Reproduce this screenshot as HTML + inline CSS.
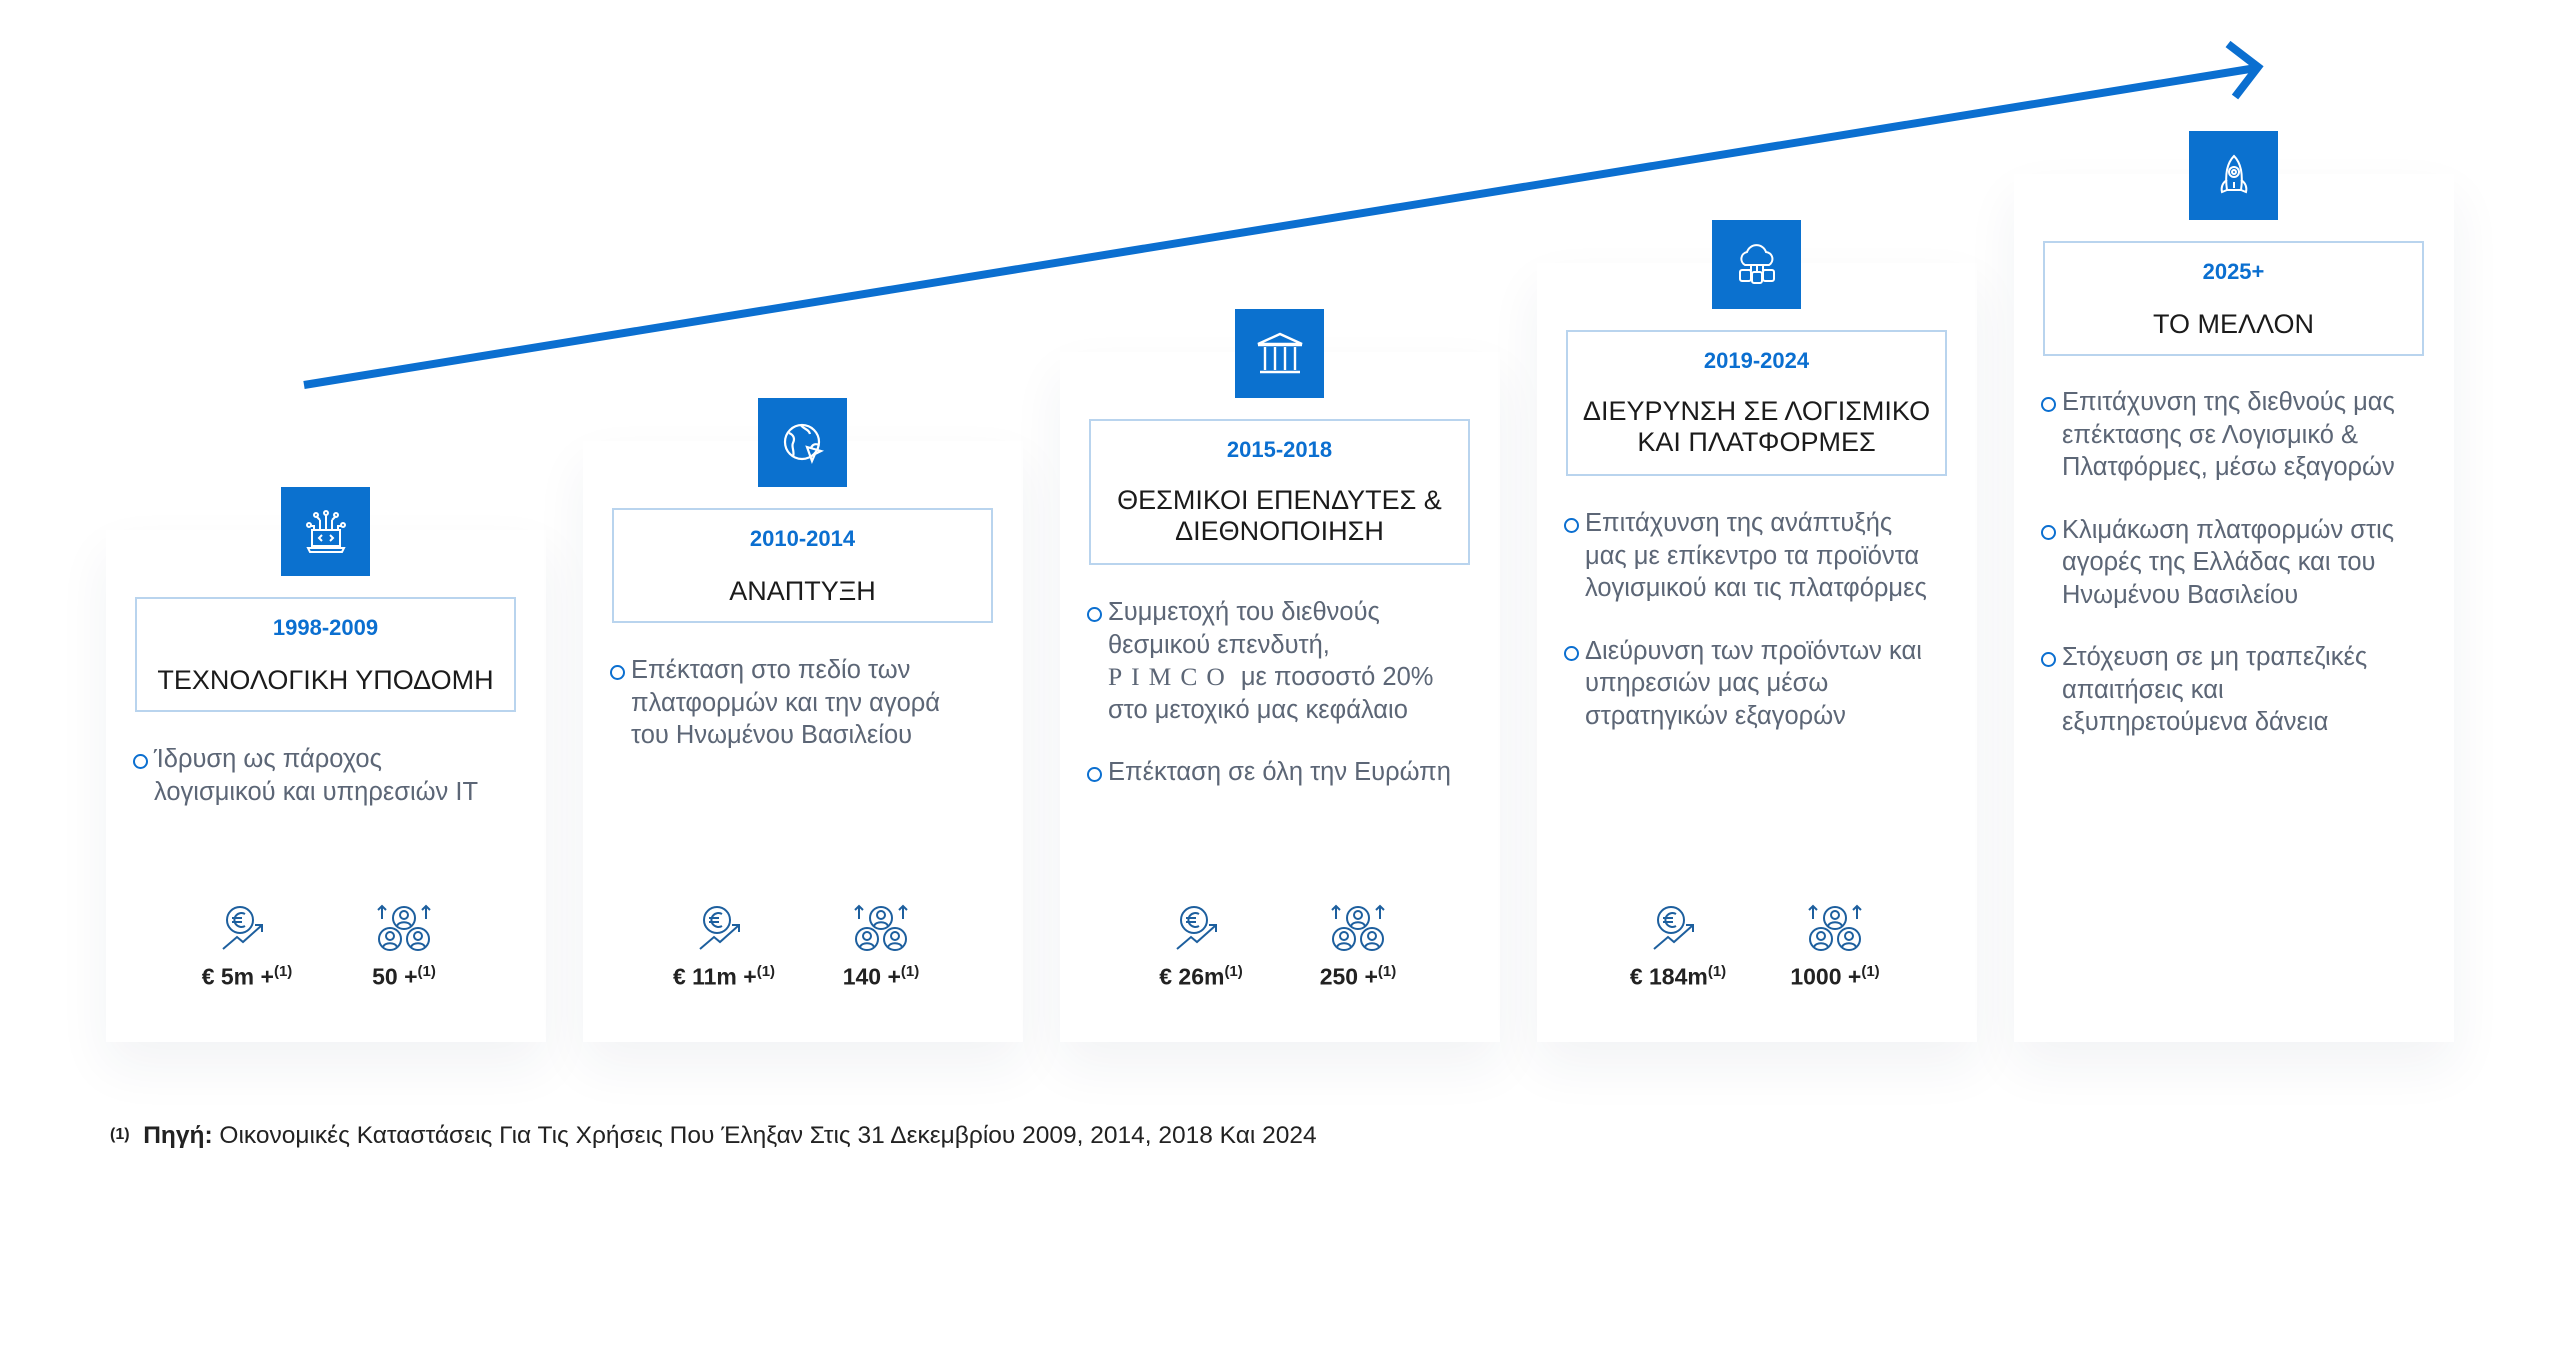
<!DOCTYPE html>
<html><head><meta charset="utf-8"><style>
*{margin:0;padding:0;box-sizing:border-box}
body{width:2560px;height:1367px;background:#fff;position:relative;overflow:hidden;font-family:"Liberation Sans","DejaVu Sans",sans-serif}
.card{position:absolute;width:440px;background:#fff;box-shadow:0 24px 50px rgba(30,50,90,0.06)}
.icon{position:absolute;width:89px;height:89px;background:#0b71cf;display:flex;align-items:center;justify-content:center}
.box{position:absolute;width:381px;border:2.5px solid #b9d4ee;background:#fff;text-align:center}
.yr{color:#0b6fd0;font-weight:bold;font-size:22px;position:absolute;left:0;right:0}
.tt{color:#1b1b1b;font-size:27px;line-height:31px;position:absolute;left:0;right:0}
.bl{position:absolute;width:430px;white-space:nowrap;color:#5c6676;font-size:25.5px;line-height:32.5px}
.bl p{position:relative;padding-left:21px;margin-bottom:30px}
.bl p:before{content:"";position:absolute;left:0;top:11px;width:11px;height:11px;border:2.5px solid #0b6fd0;border-radius:50%}
.st{position:absolute;width:160px;text-align:center;font-weight:bold;font-size:23px;color:#222}
.st sup{font-size:15px}
.st svg{display:block;margin:0 auto 10px}
.foot{position:absolute;left:110px;top:1122px;font-size:24.5px;color:#222;white-space:nowrap}
</style></head><body>

<svg width="2560" height="1367" style="position:absolute;left:0;top:0">
<line x1="304" y1="385" x2="2256" y2="68" stroke="#0b6fd0" stroke-width="8"/>
<polyline points="2228,44 2258,67 2235,97" fill="none" stroke="#0b6fd0" stroke-width="8"/>
</svg>

<div class="card" style="left:106px;top:530px;height:512px"></div>
<div class="card" style="left:583px;top:441px;height:601px"></div>
<div class="card" style="left:1060px;top:352px;height:690px"></div>
<div class="card" style="left:1537px;top:263px;height:779px"></div>
<div class="card" style="left:2014px;top:174px;height:868px"></div>

<div class="icon" style="left:281px;top:487px"><svg width="52" height="52" viewBox="0 0 52 52" fill="none" stroke="#fff" stroke-width="2"><rect x="12" y="24" width="28" height="16"/><path d="M8 42h36l-2 4H10z"/><path d="M22 29l-3 3 3 3M30 29l3 3-3 3"/><path d="M20 24V14M26 24V8M32 24V14M14 24V20h-4M38 24V20h4M20 14l-4-4M32 14l4-4"/><circle cx="26" cy="7" r="2"/><circle cx="16" cy="9" r="2"/><circle cx="36" cy="9" r="2"/><circle cx="9" cy="19" r="2"/><circle cx="43" cy="19" r="2"/></svg></div>
<div class="icon" style="left:758px;top:398px"><svg width="52" height="52" viewBox="0 0 52 52" fill="none" stroke="#fff" stroke-width="2.2"><circle cx="25" cy="25" r="17"/><path d="M12 16c5 2 6 6 4 10s2 8 0 14M24 8c2 4 8 4 9 9M42 28c-4-2-7 0-8 3"/><path d="M30 30l14 4-6 3-3 7z"/></svg></div>
<div class="icon" style="left:1235px;top:309px"><svg width="56" height="56" viewBox="0 0 56 56" fill="none" stroke="#fff" stroke-width="2.4"><path d="M6 18L28 8l22 10z"/><path d="M6 19h44M8 46h40M13 21v23M23 21v23M33 21v23M43 21v23"/></svg></div>
<div class="icon" style="left:1712px;top:220px"><svg width="52" height="52" viewBox="0 0 52 52" fill="none" stroke="#fff" stroke-width="2"><path d="M14 26a7 7 0 0 1 2-13 10 10 0 0 1 19 0 7 7 0 0 1 3 13z"/><path d="M20 26v5h-5M26 26v7M32 26v5h5"/><rect x="9" y="31" width="11" height="11" rx="2"/><rect x="21" y="33" width="10" height="11" rx="2"/><rect x="32" y="31" width="11" height="11" rx="2"/></svg></div>
<div class="icon" style="left:2189px;top:131px"><svg width="52" height="52" viewBox="0 0 52 52" fill="none" stroke="#fff" stroke-width="2"><path d="M26 6c-8 8-9 20-7 34h14c2-14 1-26-7-34z"/><circle cx="26" cy="22" r="5"/><circle cx="26" cy="22" r="2"/><path d="M19 30c-5 3-6 8-5 12l5-2M33 30c5 3 6 8 5 12l-5-2M26 32v6"/></svg></div>

<div class="box" style="left:135px;top:597px;height:115px"><div class="yr" style="top:16px">1998-2009</div><div class="tt" style="top:66px">ΤΕΧΝΟΛΟΓΙΚΗ ΥΠΟΔΟΜΗ</div></div>
<div class="box" style="left:612px;top:508px;height:115px"><div class="yr" style="top:16px">2010-2014</div><div class="tt" style="top:66px">ΑΝΑΠΤΥΞΗ</div></div>
<div class="box" style="left:1089px;top:419px;height:146px"><div class="yr" style="top:16px">2015-2018</div><div class="tt" style="top:64px">ΘΕΣΜΙΚΟΙ ΕΠΕΝΔΥΤΕΣ &amp;<br>ΔΙΕΘΝΟΠΟΙΗΣΗ</div></div>
<div class="box" style="left:1566px;top:330px;height:146px"><div class="yr" style="top:16px">2019-2024</div><div class="tt" style="top:64px">ΔΙΕΥΡΥΝΣΗ ΣΕ ΛΟΓΙΣΜΙΚΟ<br>ΚΑΙ ΠΛΑΤΦΟΡΜΕΣ</div></div>
<div class="box" style="left:2043px;top:241px;height:115px"><div class="yr" style="top:16px">2025+</div><div class="tt" style="top:66px">ΤΟ ΜΕΛΛΟΝ</div></div>

<div class="bl" style="left:133px;top:743px"><p>Ίδρυση ως πάροχος<br>λογισμικού και υπηρεσιών IT</p></div>
<div class="bl" style="left:610px;top:654px"><p>Επέκταση στο πεδίο των<br>πλατφορμών και την αγορά<br>του Ηνωμένου Βασιλείου</p></div>
<div class="bl" style="left:1087px;top:596px"><p>Συμμετοχή του διεθνούς<br>θεσμικού επενδυτή,<br><span style="font-family:'Liberation Serif',serif;letter-spacing:9px">PIMCO</span> με ποσοστό 20%<br>στο μετοχικό μας κεφάλαιο</p><p>Επέκταση σε όλη την Ευρώπη</p></div>
<div class="bl" style="left:1564px;top:507px"><p>Επιτάχυνση της ανάπτυξής<br>μας με επίκεντρο τα προϊόντα<br>λογισμικού και τις πλατφόρμες</p><p>Διεύρυνση των προϊόντων και<br>υπηρεσιών μας μέσω<br>στρατηγικών εξαγορών</p></div>
<div class="bl" style="left:2041px;top:386px"><p>Επιτάχυνση της διεθνούς μας<br>επέκτασης σε Λογισμικό &amp;<br>Πλατφόρμες, μέσω εξαγορών</p><p>Κλιμάκωση πλατφορμών στις<br>αγορές της Ελλάδας και του<br>Ηνωμένου Βασιλείου</p><p>Στόχευση σε μη τραπεζικές<br>απαιτήσεις και<br>εξυπηρετούμενα δάνεια</p></div>

<div id="stats"></div>
<script>
var eur='<svg width="56" height="50" viewBox="0 0 56 50" fill="none" stroke="#1d5f9e" stroke-width="2"><circle cx="21" cy="17" r="13"/><path d="M26 11a7 7 0 1 0 0 12M13 15h10M13 19h10"/><path d="M4 46l14-12 6 5 18-16M36 22h7v7"/></svg>';
var ppl='<svg width="64" height="50" viewBox="0 0 64 50" fill="none" stroke="#1d5f9e" stroke-width="2"><circle cx="32" cy="15" r="11"/><circle cx="32" cy="12" r="4"/><path d="M25 23c2-5 12-5 14 0"/><circle cx="18" cy="36" r="11"/><circle cx="18" cy="33" r="4"/><path d="M11 44c2-5 12-5 14 0"/><circle cx="46" cy="36" r="11"/><circle cx="46" cy="33" r="4"/><path d="M39 44c2-5 12-5 14 0"/><path d="M10 16V3M6 7l4-4 4 4M54 16V3M50 7l4-4 4 4"/></svg>';
var d=[["€ 5m +","50 +"],["€ 11m +","140 +"],["€ 26m","250 +"],["€ 184m","1000 +"]];
var h="";
for(var i=0;i<4;i++){var c=106+477*i+220;
h+='<div class="st" style="left:'+(c-79-80)+'px;top:903px">'+eur+d[i][0]+'<sup>(1)</sup></div>';
h+='<div class="st" style="left:'+(c+78-80)+'px;top:903px">'+ppl+d[i][1]+'<sup>(1)</sup></div>';}
document.getElementById('stats').innerHTML=h;
</script>

<div class="foot"><b style="font-size:16px;vertical-align:4px">(1)</b>&nbsp; <b>Πηγή:</b> Οικονομικές Καταστάσεις Για Τις Χρήσεις Που Έληξαν Στις 31 Δεκεμβρίου 2009, 2014, 2018 Και 2024</div>
</body></html>
